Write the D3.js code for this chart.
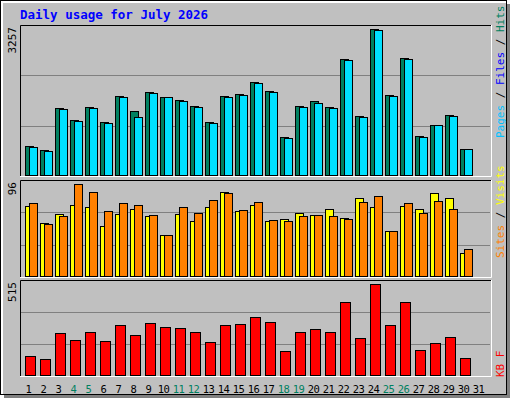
<!DOCTYPE html>
<html><head><meta charset="utf-8">
<script src="https://cdn.jsdelivr.net/npm/d3@7"></script>
<style>body{margin:0;background:#fff}</style>
</head><body>
<svg id="chart" width="512" height="400"></svg>
<script>
var days = d3.range(1, 32);
var weekend = [4, 5, 11, 12, 18, 19, 25, 26];
var hits = [647,561,1467,1208,1488,1165,1726,1402,1812,1704,1639,1510,1165,1726,1769,2028,1833,841,1510,1618,1488,2524,1294,3171,1747,2545,863,1100,1316,582];
var pages = [626,539,1445,1186,1467,1143,1704,1273,1790,1704,1618,1488,1143,1704,1747,2006,1812,820,1488,1575,1467,2502,1273,3149,1726,2524,841,1100,1294,582];
var visits = [70,53,62,71,69,50,62,67,60,42,62,55,69,84,65,71,55,57,63,61,67,58,78,69,46,70,67,83,78,24];
var sites = [73,52,60,92,84,65,73,71,61,42,69,63,76,83,66,74,56,55,60,61,60,57,74,80,46,73,63,75,67,28];
var kbytes = [107,91,231,193,236,188,273,220,284,263,257,236,182,273,279,316,289,134,236,252,236,397,204,493,273,397,139,177,209,96];
var maxHits = 3257, maxSites = 96, maxKB = 515;

var svg = d3.select("#chart");
var font = "'DejaVu Sans Mono', monospace";

// frame
svg.append("rect").attr("x", 4).attr("y", 4).attr("width", 506).attr("height", 394).attr("fill", "#808080");
svg.append("rect").attr("x", 0.5).attr("y", 0.5).attr("width", 506).attr("height", 394)
  .attr("fill", "#c0c0c0").attr("stroke", "#000");
svg.append("path").attr("d", "M2,394V2H506").attr("fill", "none").attr("stroke", "#fff").attr("stroke-width", 2);

svg.append("text").attr("x", 20).attr("y", 19).attr("fill", "#0000ff")
  .attr("font-family", font).attr("font-weight", "bold").attr("font-size", 12.5)
  .text("Daily usage for July 2026");

var x = d3.scaleBand().domain(days).range([20, 485]).paddingInner(0);

function panel(top, bottom, max, label) {
  var y = d3.scaleLinear().domain([0, max]).range([bottom, top]);
  var g = svg.append("g");
  g.append("rect").attr("x", 20).attr("y", top).attr("width", 471).attr("height", bottom - top).attr("fill", "#c0c0c0");
  [max / 3, max * 2 / 3].forEach(function (v) {
    g.append("line").attr("x1", 21).attr("x2", 490).attr("y1", Math.round(y(v)) + 0.5).attr("y2", Math.round(y(v)) + 0.5)
      .attr("stroke", "#808080");
  });
  g.append("path").attr("d", "M20.5," + bottom + "V" + (top + 0.5) + "H491").attr("fill", "none").attr("stroke", "#000");
  g.append("path").attr("d", "M20," + (bottom + 0.5) + "H491.5V" + top).attr("fill", "none").attr("stroke", "#fff");
  svg.append("text").attr("transform", "translate(16," + (top + 2) + ") rotate(-90)")
    .attr("text-anchor", "end").attr("font-family", font).attr("font-size", 11).text(label);
  return y;
}

function bars(data, y, fill, dx, w) {
  svg.append("g").selectAll("rect").data(data).enter().append("rect")
    .attr("x", function (d, i) { return x(days[i]) + 5.5 + dx; })
    .attr("y", function (d) { return Math.round(y(d)) + 0.5; })
    .attr("width", w)
    .attr("height", function (d) { return y(0) - Math.round(y(d)) - 1; })
    .attr("fill", fill).attr("stroke", "#000");
}

var y1 = panel(25, 176, maxHits, maxHits);
bars(hits, y1, "#008060", 0, 8);
bars(pages, y1, "#00e0ff", 4, 8);

var y2 = panel(180, 277, maxSites, maxSites);
bars(visits, y2, "#ffff00", 0, 8);
bars(sites, y2, "#ff8000", 4, 8);

var y3 = panel(280, 376, maxKB, maxKB);
bars(kbytes, y3, "#ff0000", 0, 10);

// day labels
svg.append("g").selectAll("text").data(days).enter().append("text")
  .attr("x", function (d) { return x(d) + x.bandwidth() / 2 + 1; })
  .attr("y", 393).attr("text-anchor", "middle")
  .attr("font-family", font).attr("font-size", 10.5).attr("letter-spacing", -0.5)
  .attr("fill", function (d) { return weekend.indexOf(d) >= 0 ? "#008060" : "#000"; })
  .text(function (d) { return d; });

// right legends
function legend(yBottom, parts) {
  var t = svg.append("text").attr("transform", "translate(504," + yBottom + ") rotate(-90)")
    .attr("font-family", font).attr("font-size", 11);
  parts.forEach(function (p) { t.append("tspan").attr("fill", p[1]).text(p[0]); });
}
legend(138, [["Pages", "#00c0ff"], [" / ", "#000"], ["Files", "#0000ff"], [" / ", "#000"], ["Hits", "#008060"]]);
legend(258, [["Sites", "#ff8000"], [" / ", "#000"], ["Visits", "#ffff00"]]);
legend(377, [["KB F", "#ff0000"]]);
</script>
</body></html>
